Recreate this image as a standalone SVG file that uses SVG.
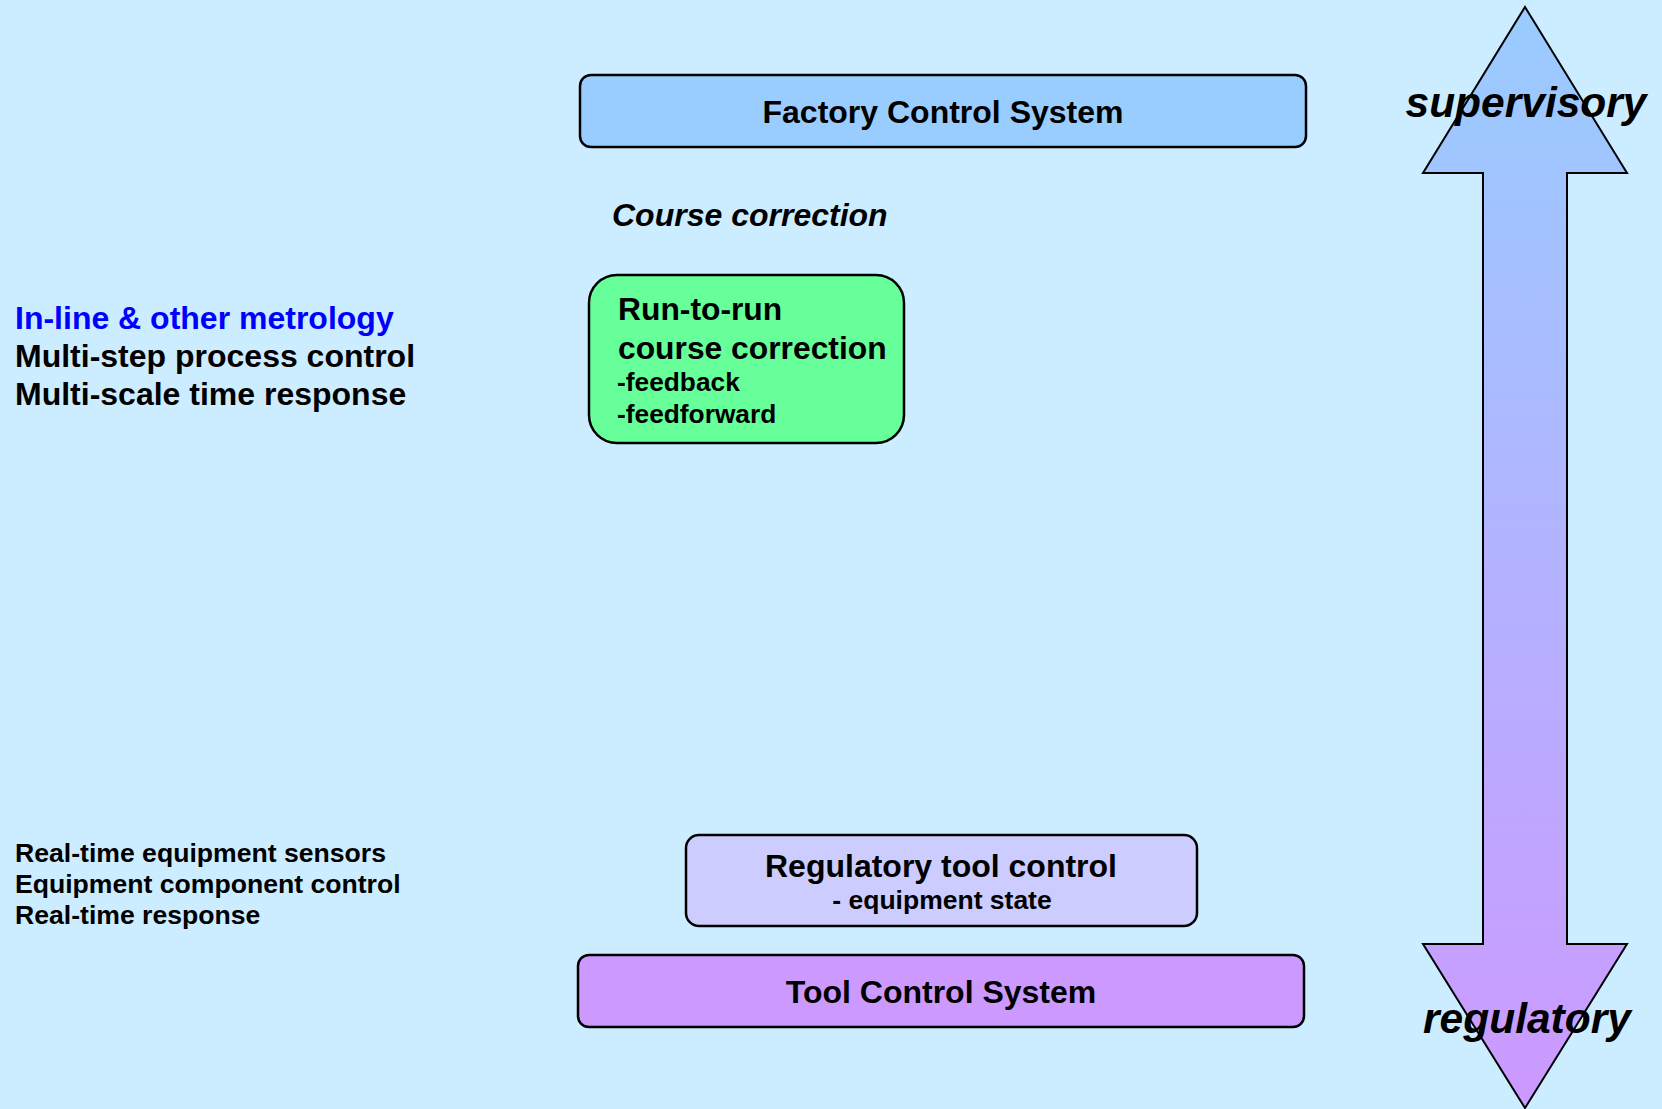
<svg xmlns="http://www.w3.org/2000/svg" width="1662" height="1109" viewBox="0 0 1662 1109">
  <style>
    .box { stroke: #000; stroke-width: 2.5; }
    .t { font-family: "Liberation Sans", Arial, sans-serif; font-weight: bold; fill: #000; }
    .it { font-style: italic; }
    .mid { text-anchor: middle; }
  </style>
  <defs>
    <linearGradient id="levelGrad" x1="0" y1="7" x2="0" y2="1108" gradientUnits="userSpaceOnUse">
      <stop offset="0" stop-color="#99CCFF"/>
      <stop offset="1" stop-color="#CC99FF"/>
    </linearGradient>
  </defs>

  <rect width="1662" height="1109" fill="#CCECFF"/>

  <!-- double-headed scale arrow: supervisory (top) to regulatory (bottom) -->
  <g id="scale-arrow">
    <polygon points="1525,7 1627,173 1567,173 1567,944 1627,944 1525,1108 1423,944 1483,944 1483,173 1423,173" fill="url(#levelGrad)" stroke="#000" stroke-width="2"/>
    <text class="t it mid" x="1526" y="117" font-size="42.5">supervisory</text>
    <text class="t it mid" x="1527" y="1033" font-size="42.5">regulatory</text>
  </g>

  <g id="factory-control">
    <rect class="box" x="580" y="75" width="726" height="72" rx="11" fill="#99CCFF"/>
    <text class="t mid" x="943" y="123" font-size="32">Factory Control System</text>
  </g>

  <g id="course-correction-label">
    <text class="t it" x="612" y="226" font-size="32">Course correction</text>
  </g>

  <g id="run-to-run">
    <rect class="box" x="589" y="275" width="315" height="168" rx="28" fill="#66FF99"/>
    <text class="t" x="618" y="320" font-size="31.8">Run-to-run</text>
    <text class="t" x="618" y="359" font-size="31.8">course correction</text>
    <text class="t" x="617" y="391" font-size="26.3">-feedback</text>
    <text class="t" x="617" y="423" font-size="26.3">-feedforward</text>
  </g>

  <g id="metrology-notes">
    <text class="t" x="15" y="329" font-size="32" style="fill:#0000FF">In-line &amp; other metrology</text>
    <text class="t" x="15" y="367" font-size="32">Multi-step process control</text>
    <text class="t" x="15" y="405" font-size="32">Multi-scale time response</text>
  </g>

  <g id="equipment-notes">
    <text class="t" x="15" y="862" font-size="26.6">Real-time equipment sensors</text>
    <text class="t" x="15" y="893" font-size="26.6">Equipment component control</text>
    <text class="t" x="15" y="924" font-size="26.6">Real-time response</text>
  </g>

  <g id="regulatory-tool-control">
    <rect class="box" x="686" y="835" width="511" height="91" rx="13" fill="#CCCCFF"/>
    <text class="t mid" x="941" y="877" font-size="32">Regulatory tool control</text>
    <text class="t mid" x="942" y="909" font-size="26.5">- equipment state</text>
  </g>

  <g id="tool-control">
    <rect class="box" x="578" y="955" width="726" height="72" rx="11" fill="#CC99FF"/>
    <text class="t mid" x="941" y="1003" font-size="32">Tool Control System</text>
  </g>

  <g id="connectors"/>
</svg>
